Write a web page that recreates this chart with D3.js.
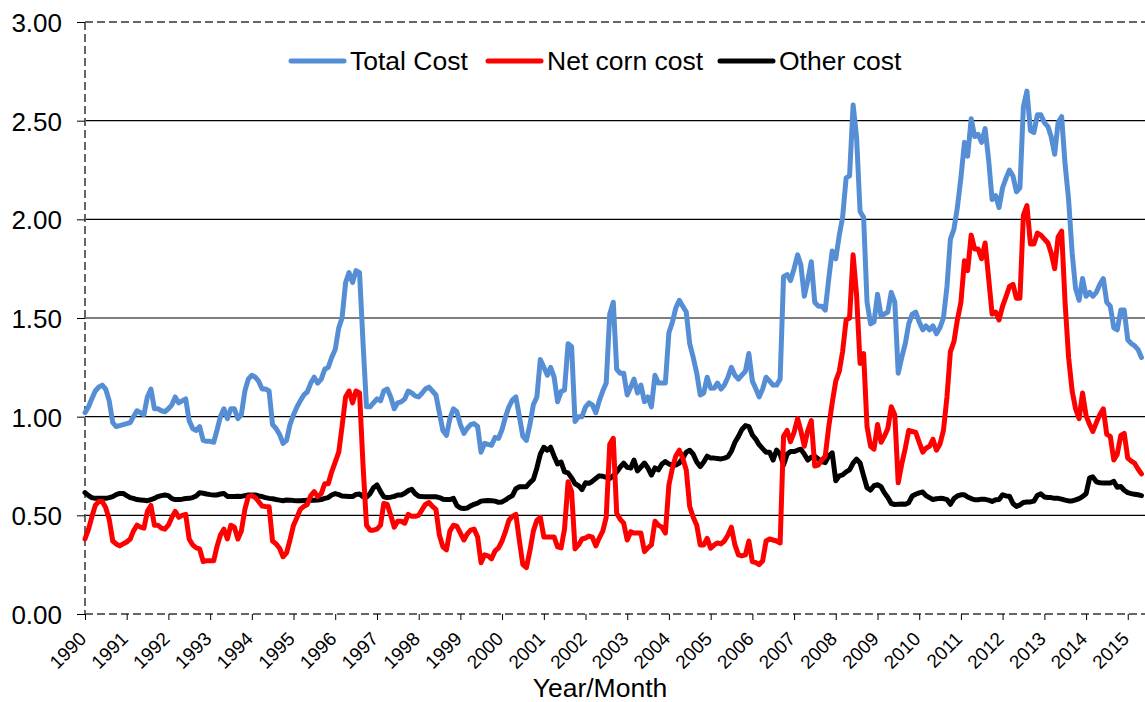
<!DOCTYPE html>
<html>
<head>
<meta charset="utf-8">
<script src="https://cdn.jsdelivr.net/npm/d3@7/dist/d3.min.js"></script>
<style>
  html, body { margin: 0; padding: 0; background: #fff; }
  svg { display: block; font-family: "Liberation Sans", Arial, sans-serif; }
</style>
</head>
<body>
<svg id="chart" width="1145" height="702"></svg>
<script>
// Monthly series, January 1990 through May 2015
const startYear = 1990;
const yearLabels = ["1990","1991","1992","1993","1994","1995","1996","1997","1998","1999","2000","2001","2002",
  "2003","2004","2005","2006","2007","2008","2009","2010","2011","2012","2013","2014","2015"];
const yTickValues = [0, 0.5, 1.0, 1.5, 2.0, 2.5, 3.0];
const seriesNames = ["Total Cost", "Net corn cost", "Other cost"];

const totalCost = [
  1.02,1.05,1.09,1.13,1.15,1.16,1.14,1.08,0.97,0.95,0.955,0.96,
  0.965,0.97,1.00,1.03,1.02,1.01,1.10,1.14,1.04,1.04,1.03,1.025,
  1.04,1.06,1.10,1.07,1.08,1.09,0.98,0.94,0.93,0.95,0.88,0.875,
  0.875,0.87,0.93,1.00,1.04,0.99,1.04,1.04,0.99,1.01,1.13,1.19,
  1.21,1.20,1.18,1.14,1.14,1.13,0.96,0.94,0.91,0.865,0.88,0.96,
  1.01,1.05,1.08,1.11,1.125,1.17,1.20,1.17,1.19,1.24,1.25,1.30,
  1.34,1.45,1.50,1.68,1.73,1.68,1.74,1.73,1.37,1.05,1.05,1.07,
  1.09,1.08,1.13,1.14,1.10,1.04,1.07,1.075,1.09,1.13,1.12,1.105,
  1.10,1.12,1.14,1.15,1.13,1.11,1.02,0.93,0.905,0.99,1.04,1.025,
  0.96,0.915,0.94,0.96,0.965,0.95,0.82,0.865,0.86,0.855,0.895,0.89,
  0.935,1.00,1.05,1.085,1.10,1.00,0.90,0.88,0.96,1.06,1.10,1.29,
  1.25,1.21,1.25,1.20,1.076,1.127,1.135,1.37,1.355,0.975,1.00,1.00,
  1.05,1.07,1.06,1.02,1.08,1.13,1.17,1.52,1.58,1.24,1.22,1.22,
  1.11,1.15,1.19,1.12,1.16,1.076,1.10,1.05,1.21,1.17,1.17,1.17,
  1.425,1.48,1.55,1.59,1.56,1.53,1.37,1.30,1.22,1.11,1.12,1.20,
  1.144,1.145,1.17,1.14,1.16,1.20,1.25,1.21,1.19,1.21,1.23,1.32,
  1.18,1.14,1.10,1.14,1.20,1.18,1.16,1.16,1.19,1.71,1.72,1.69,
  1.75,1.82,1.77,1.61,1.69,1.785,1.58,1.56,1.56,1.54,1.70,1.84,
  1.80,1.92,2.01,2.21,2.22,2.58,2.42,2.04,2.01,1.58,1.47,1.48,
  1.62,1.51,1.52,1.53,1.63,1.58,1.22,1.30,1.37,1.47,1.52,1.53,
  1.48,1.44,1.46,1.44,1.46,1.42,1.45,1.50,1.66,1.90,1.95,2.06,
  2.21,2.39,2.32,2.51,2.42,2.43,2.39,2.46,2.30,2.10,2.12,2.06,
  2.16,2.21,2.25,2.22,2.14,2.16,2.57,2.65,2.45,2.44,2.53,2.53,
  2.49,2.47,2.42,2.33,2.49,2.52,2.28,2.10,1.83,1.65,1.59,1.70,
  1.61,1.63,1.61,1.63,1.67,1.70,1.58,1.56,1.45,1.44,1.54,1.54,
  1.39,1.37,1.36,1.34,1.30
];

const netCornCost = [
  0.38,0.43,0.49,0.55,0.57,0.57,0.54,0.48,0.37,0.355,0.345,0.355,
  0.365,0.38,0.42,0.45,0.44,0.435,0.52,0.55,0.45,0.45,0.435,0.43,
  0.45,0.49,0.52,0.49,0.50,0.505,0.38,0.35,0.335,0.33,0.265,0.27,
  0.27,0.27,0.34,0.40,0.43,0.38,0.45,0.44,0.38,0.42,0.53,0.595,
  0.60,0.59,0.57,0.547,0.545,0.544,0.37,0.355,0.333,0.29,0.31,0.375,
  0.45,0.49,0.53,0.545,0.555,0.60,0.62,0.595,0.61,0.66,0.66,0.72,
  0.77,0.82,0.95,1.10,1.13,1.07,1.13,1.12,0.75,0.45,0.425,0.425,
  0.43,0.45,0.56,0.555,0.50,0.44,0.47,0.47,0.46,0.505,0.495,0.495,
  0.50,0.53,0.555,0.565,0.545,0.53,0.40,0.34,0.325,0.42,0.45,0.445,
  0.41,0.375,0.405,0.425,0.43,0.39,0.26,0.30,0.295,0.28,0.32,0.335,
  0.37,0.42,0.475,0.495,0.505,0.37,0.25,0.235,0.32,0.42,0.475,0.49,
  0.39,0.39,0.39,0.39,0.34,0.335,0.43,0.67,0.62,0.33,0.35,0.38,
  0.385,0.395,0.39,0.345,0.385,0.42,0.49,0.86,0.89,0.51,0.48,0.46,
  0.375,0.417,0.41,0.41,0.41,0.316,0.335,0.35,0.47,0.45,0.44,0.41,
  0.654,0.74,0.80,0.83,0.79,0.73,0.545,0.49,0.45,0.35,0.35,0.383,
  0.333,0.35,0.36,0.355,0.37,0.40,0.44,0.35,0.30,0.295,0.30,0.37,
  0.265,0.26,0.25,0.27,0.37,0.38,0.375,0.37,0.36,0.90,0.93,0.873,
  0.92,0.99,0.93,0.85,0.93,0.98,0.75,0.755,0.78,0.80,0.95,1.07,
  1.18,1.23,1.33,1.49,1.50,1.82,1.62,1.27,1.32,0.95,0.85,0.835,
  0.96,0.87,0.90,0.94,1.05,1.01,0.665,0.76,0.84,0.93,0.925,0.92,
  0.87,0.82,0.84,0.85,0.885,0.83,0.86,0.93,1.10,1.33,1.38,1.49,
  1.58,1.79,1.74,1.92,1.85,1.85,1.80,1.88,1.70,1.52,1.53,1.49,
  1.56,1.61,1.66,1.67,1.60,1.60,2.02,2.07,1.875,1.875,1.93,1.92,
  1.90,1.88,1.83,1.75,1.91,1.94,1.58,1.30,1.13,1.04,0.99,1.12,
  1.005,0.96,0.925,0.97,1.01,1.04,0.91,0.90,0.78,0.81,0.905,0.915,
  0.79,0.775,0.765,0.735,0.71
];

const otherCost = [
  0.615,0.60,0.59,0.586,0.586,0.586,0.586,0.59,0.595,0.605,0.611,0.611,
  0.60,0.59,0.586,0.58,0.578,0.576,0.574,0.58,0.586,0.595,0.60,0.603,
  0.60,0.585,0.58,0.58,0.582,0.585,0.586,0.59,0.598,0.615,0.612,0.608,
  0.605,0.603,0.603,0.608,0.611,0.596,0.595,0.595,0.597,0.596,0.60,0.603,
  0.603,0.603,0.598,0.595,0.59,0.586,0.584,0.58,0.577,0.574,0.578,0.577,
  0.575,0.574,0.574,0.575,0.576,0.576,0.576,0.578,0.58,0.586,0.59,0.603,
  0.61,0.605,0.598,0.597,0.596,0.595,0.606,0.608,0.594,0.592,0.61,0.64,
  0.654,0.62,0.594,0.59,0.592,0.596,0.603,0.603,0.612,0.625,0.632,0.61,
  0.597,0.595,0.594,0.594,0.594,0.594,0.59,0.582,0.58,0.58,0.586,0.55,
  0.537,0.535,0.537,0.548,0.556,0.562,0.572,0.574,0.575,0.574,0.572,0.566,
  0.568,0.578,0.59,0.60,0.635,0.645,0.645,0.645,0.666,0.682,0.74,0.81,
  0.845,0.83,0.845,0.80,0.76,0.77,0.72,0.715,0.69,0.66,0.65,0.63,
  0.665,0.662,0.672,0.687,0.70,0.698,0.692,0.687,0.70,0.72,0.745,0.764,
  0.743,0.74,0.78,0.725,0.745,0.765,0.74,0.704,0.74,0.73,0.76,0.772,
  0.76,0.755,0.755,0.765,0.79,0.82,0.83,0.81,0.77,0.747,0.77,0.80,
  0.79,0.79,0.788,0.786,0.79,0.797,0.825,0.87,0.90,0.935,0.955,0.95,
  0.907,0.885,0.858,0.838,0.82,0.82,0.78,0.831,0.81,0.755,0.81,0.823,
  0.823,0.83,0.835,0.81,0.78,0.795,0.80,0.786,0.772,0.767,0.80,0.817,
  0.675,0.70,0.705,0.72,0.73,0.765,0.785,0.765,0.70,0.64,0.628,0.65,
  0.655,0.645,0.615,0.59,0.56,0.555,0.556,0.557,0.556,0.564,0.598,0.607,
  0.614,0.618,0.60,0.59,0.58,0.584,0.586,0.585,0.58,0.556,0.585,0.598,
  0.604,0.604,0.593,0.585,0.579,0.579,0.582,0.581,0.577,0.57,0.579,0.58,
  0.604,0.598,0.597,0.56,0.545,0.553,0.565,0.568,0.568,0.572,0.602,0.609,
  0.593,0.59,0.59,0.586,0.586,0.582,0.577,0.573,0.573,0.578,0.585,0.595,
  0.609,0.69,0.695,0.67,0.665,0.664,0.664,0.664,0.672,0.642,0.646,0.627,
  0.615,0.61,0.607,0.604,0.60
];

const svg = d3.select("#chart");
const plotLeft = 85, plotRight = 1145, plotTop = 22, plotBottom = 614;
const fontStack = "'Liberation Sans', Arial, sans-serif";

const x = d3.scaleTime()
  .domain([new Date(startYear, 0, 1), new Date(2015, 5, 1)])
  .range([plotLeft, plotRight]);
const y = d3.scaleLinear().domain([0, 3]).range([plotBottom, plotTop]);

const monthDate = i => new Date(startYear, i, 1);

// horizontal gridlines
svg.append("g")
  .selectAll("line")
  .data(yTickValues.filter(v => v > 0 && v < 3))
  .join("line")
  .attr("x1", plotLeft).attr("x2", plotRight)
  .attr("y1", d => y(d)).attr("y2", d => y(d))
  .attr("stroke", "#000").attr("stroke-width", 1.2);

// dashed plot-area border (top, left, bottom)
const border = svg.append("g")
  .attr("stroke", "#666").attr("stroke-width", 2)
  .attr("stroke-dasharray", "8,4").attr("fill", "none");
border.append("line").attr("x1", plotLeft).attr("x2", plotRight).attr("y1", plotTop).attr("y2", plotTop);
border.append("line").attr("x1", plotLeft).attr("x2", plotLeft).attr("y1", plotTop).attr("y2", plotBottom);
border.append("line").attr("x1", plotLeft).attr("x2", plotRight).attr("y1", plotBottom).attr("y2", plotBottom);

// y axis
const yAxis = d3.axisLeft(y)
  .tickValues(yTickValues)
  .tickFormat(d3.format(".2f"))
  .tickSize(8)
  .tickPadding(15);
const gy = svg.append("g").attr("transform", `translate(${plotLeft},0)`).call(yAxis);
gy.attr("font-size", null).attr("font-family", null);
gy.select(".domain").remove();
gy.selectAll(".tick line").attr("stroke", "#000");
gy.selectAll(".tick text")
  .style("font-size", "26px")
  .style("font-family", fontStack)
  .attr("fill", "#000")
  .attr("dy", "0.36em");

// x axis: year ticks with rotated labels
const yearDates = yearLabels.map(s => new Date(+s, 0, 1));
const xAxis = d3.axisBottom(x)
  .tickValues(yearDates)
  .tickFormat((d, i) => yearLabels[i])
  .tickSize(6)
  .tickSizeOuter(0);
const gx = svg.append("g").attr("transform", `translate(0,${plotBottom})`).call(xAxis);
gx.attr("font-size", null).attr("font-family", null);
gx.select(".domain").remove();
gx.selectAll(".tick line").attr("stroke", "#000");
gx.selectAll(".tick text")
  .style("font-size", "19px")
  .style("font-family", fontStack)
  .attr("fill", "#000")
  .attr("text-anchor", "end")
  .attr("y", 0).attr("dy", 0)
  .attr("transform", "translate(2,26) rotate(-45)");

// axis title
svg.append("text")
  .attr("x", 600)
  .attr("y", 697)
  .attr("text-anchor", "middle")
  .style("font-size", "26.5px")
  .style("font-family", fontStack)
  .attr("fill", "#000")
  .text("Year/Month");

// series lines
const line = d3.line()
  .x((d, i) => x(monthDate(i)))
  .y(d => y(d));

const series = [
  { name: seriesNames[0], values: totalCost, color: "#558ED5" },
  { name: seriesNames[2], values: otherCost, color: "#000000" },
  { name: seriesNames[1], values: netCornCost, color: "#FF0000" }
];

svg.append("g")
  .selectAll("path")
  .data(series)
  .join("path")
  .attr("d", d => line(d.values))
  .attr("fill", "none")
  .attr("stroke", d => d.color)
  .attr("stroke-width", 5)
  .attr("stroke-linejoin", "round")
  .attr("stroke-linecap", "round");

// legend
const legendItems = [
  { name: seriesNames[0], color: "#558ED5", x0: 291 },
  { name: seriesNames[1], color: "#FF0000", x0: 488 },
  { name: seriesNames[2], color: "#000000", x0: 720 }
];
const lg = svg.append("g");
const li = lg.selectAll("g").data(legendItems).join("g")
  .attr("transform", d => `translate(${d.x0},61)`);
li.append("line")
  .attr("x1", 0).attr("x2", 53).attr("y1", 0).attr("y2", 0)
  .attr("stroke", d => d.color).attr("stroke-width", 5)
  .attr("stroke-linecap", "round");
li.append("text")
  .attr("x", 59).attr("y", 9)
  .style("font-size", "26.5px")
  .style("font-family", fontStack)
  .attr("fill", "#000")
  .text(d => d.name);
</script>
</body>
</html>
